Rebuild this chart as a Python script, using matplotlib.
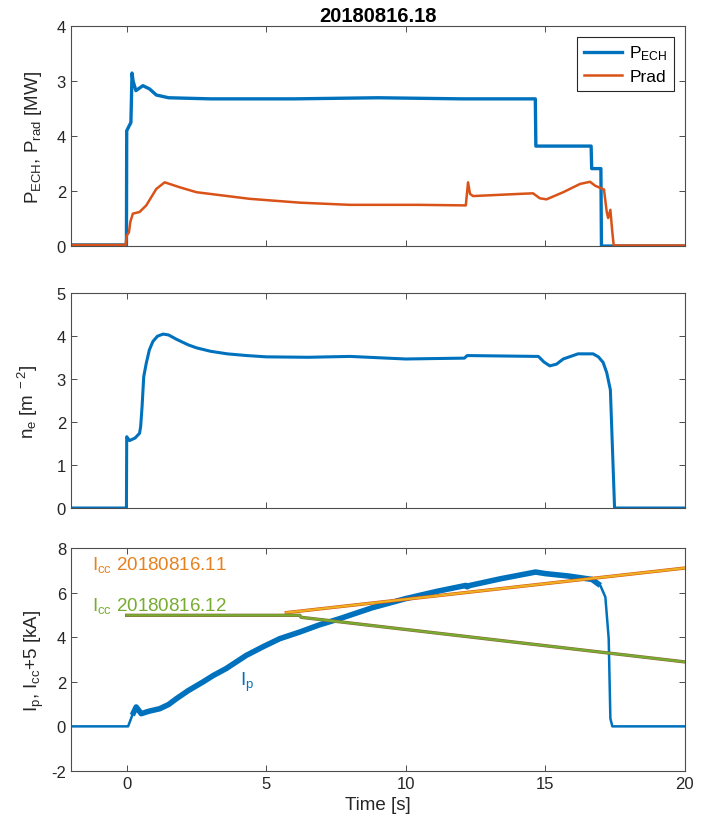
import numpy as np
import matplotlib.pyplot as plt

plt.rcParams['font.family'] = ['Liberation Sans', 'DejaVu Sans']
plt.rcParams['mathtext.fontset'] = 'custom'
plt.rcParams['mathtext.rm'] = 'Liberation Sans'
plt.rcParams['mathtext.it'] = 'Liberation Sans'
plt.rcParams['mathtext.default'] = 'regular'
plt.rcParams['axes.unicode_minus'] = False

shot = "20180816.18"

# ECH heating power and radiated power [MW]
t_ech = [-2, -0.01, 0.0, 0.15, 0.19, 0.23, 0.33, 0.58, 0.82, 1.06, 1.5, 3, 6, 9, 12,
         14.64, 14.66, 16.64, 16.66, 16.99, 17.01, 20]
p_ech = [0.02, 0.02, 2.1, 2.25, 3.15, 3.0, 2.83, 2.92, 2.86, 2.75, 2.70, 2.68, 2.68, 2.70, 2.68,
         2.68, 1.82, 1.82, 1.41, 1.41, 0.0, 0.0]

t_rad = [-2, -0.04, 0.0, 0.08, 0.13, 0.22, 0.46, 0.7, 1.06, 1.36, 1.9, 2.5, 4.4, 6.2, 8.0,
         10.5, 12.15, 12.23, 12.3, 12.41, 14.09, 14.56, 14.8, 15.04, 15.64, 16.24, 16.6,
         16.78, 16.96, 17.1, 17.2, 17.25, 17.33, 17.4, 17.45, 20]
p_rad = [0.02, 0.02, 0.19, 0.25, 0.44, 0.59, 0.62, 0.74, 1.04, 1.16, 1.07, 0.98, 0.86, 0.79, 0.75,
         0.75, 0.74, 1.16, 0.95, 0.91, 0.95, 0.96, 0.87, 0.85, 0.98, 1.13, 1.17,
         1.10, 1.06, 1.03, 0.62, 0.51, 0.66, 0.25, 0.01, 0.01]

# line-integrated density
t_ne = [-2, -0.01, 0.0, 0.1, 0.3, 0.46, 0.5, 0.55, 0.61, 0.7, 0.81, 0.94, 1.1, 1.3, 1.5,
        1.78, 2.2, 2.5, 3.0, 3.6, 4.3, 5, 6.5, 8, 9, 10, 11, 12.1, 12.2, 14.75, 14.95,
        15.16, 15.4, 15.64, 16.17, 16.71, 16.9, 17.07, 17.2, 17.33, 17.48, 20]
ne = [0, 0, 1.66, 1.57, 1.63, 1.74, 1.9, 2.36, 3.06, 3.37, 3.68, 3.88, 4.0, 4.05, 4.03,
      3.93, 3.80, 3.73, 3.65, 3.59, 3.55, 3.52, 3.51, 3.53, 3.50, 3.47, 3.48, 3.49, 3.55,
      3.53, 3.40, 3.31, 3.35, 3.47, 3.59, 3.59, 3.52, 3.39, 3.15, 2.75, 0, 0]

# plasma current and coil currents of the reference shots [kA]
t_ip = [-2, 0.05, 0.2, 0.34, 0.52, 0.8, 1.18, 1.5, 1.78, 2.2, 2.73, 3.1, 3.56, 4.28, 4.9,
        5.48, 6.2, 6.9, 7.63, 8.8, 10.0, 11.1, 12.15, 12.2, 12.3, 13.4, 14.65, 15.0,
        15.84, 16.67, 16.97, 17.15, 17.27, 17.33, 17.4, 20]
ip = [0, 0, 0.5, 0.87, 0.57, 0.68, 0.79, 0.98, 1.24, 1.6, 1.99, 2.28, 2.59, 3.18, 3.58,
      3.93, 4.23, 4.55, 4.83, 5.32, 5.73, 6.05, 6.32, 6.26, 6.32, 6.62, 6.92, 6.85,
      6.74, 6.59, 6.32, 5.80, 3.93, 0.35, 0, 0]

t_cc11 = [5.72, 20]
icc11 = [5.10, 7.10]
t_cc12 = [0.0, 6.2, 6.25, 20]
icc12 = [4.98, 4.98, 4.89, 2.89]

top_ticks = [0, 1, 2, 3, 4]
top_ticklabels = ['0', '2', '4', '3', '4']
x_ticks = [0, 5, 10, 15, 20]

blue = '#0072BD'
red = '#D95319'
yellow = '#EDB120'
green = '#77AC30'
axcol = '#4d4d4d'
txtcol = '#262626'


def style(ax):
    ax.set_xlim(-2, 20)
    ax.set_xticks(x_ticks)
    ax.tick_params(direction='in', top=True, right=True, length=4, width=0.7,
                   colors=axcol, labelcolor=txtcol, labelsize=12)
    for s in ax.spines.values():
        s.set_color(axcol)
        s.set_linewidth(0.8)


fig = plt.figure(figsize=(7.09, 8.29), dpi=100)
ax1 = fig.add_axes([0.100, 0.702, 0.866, 0.265])
ax2 = fig.add_axes([0.100, 0.386, 0.866, 0.259])
ax3 = fig.add_axes([0.100, 0.0688, 0.866, 0.269])

# powers
ax1.plot(t_ech, p_ech, color=blue, lw=2.4, label='P$_{ECH}$')
ax1.plot(t_rad, p_rad, color=red, lw=1.8, label='Prad')
style(ax1)
ax1.set_ylim(0, 4)
ax1.set_yticks(top_ticks)
ax1.set_yticklabels(top_ticklabels)
ax1.set_xticklabels([])
ax1.set_ylabel('P$_{ECH}$, P$_{rad}$ [MW]', fontsize=13.5, color=txtcol, labelpad=9)
ax1.set_title(shot, fontsize=14.5, fontweight='bold', color='black', pad=4)
leg = ax1.legend(loc='upper right', fontsize=12.5, fancybox=False, framealpha=1,
                 edgecolor=txtcol, borderaxespad=0.6, handlelength=2.2,
                 handletextpad=0.4, borderpad=0.4, labelspacing=0.35)
leg.get_frame().set_linewidth(0.8)

# density
ax2.plot(t_ne, ne, color=blue, lw=2.2)
style(ax2)
ax2.set_ylim(0, 5)
ax2.set_yticks([0, 1, 2, 3, 4, 5])
ax2.set_xticklabels([])
ax2.set_ylabel('n$_e$ [m$^{\\ -2}$]', fontsize=13.5, color=txtcol, labelpad=12)

# currents: thin trace everywhere, wider band over the noisy flat-top
ax3.plot(t_ip, ip, color=blue, lw=1.8)
ax3.plot(t_ip[2:-5], ip[2:-5], color=blue, lw=4.0, solid_capstyle='butt')
ax3.plot(t_cc11, icc11, color=red, lw=2.4)
ax3.plot(t_cc11, icc11, color=yellow, lw=1.6)
ax3.plot(t_cc12, icc12, color='#8a6a3a', lw=2.4)
ax3.plot(t_cc12, icc12, color=green, lw=1.6)
style(ax3)
ax3.set_ylim(-2, 8)
ax3.set_yticks([-2, 0, 2, 4, 6, 8])
ax3.set_xlabel('Time [s]', fontsize=13.5, color=txtcol, labelpad=4)
ax3.set_ylabel('I$_p$, I$_{cc}$+5 [kA]', fontsize=13.5, color=txtcol, labelpad=4)
ax3.text(-1.23, 7.04, 'I$_{cc}$ 20180816.11', color='#E6821E', fontsize=13.5, va='baseline')
ax3.text(-1.23, 5.20, 'I$_{cc}$ 20180816.12', color=green, fontsize=13.5, va='baseline')
ax3.text(4.05, 1.84, 'I$_p$', color=blue, fontsize=13.5, va='baseline')

fig.savefig('out.png', dpi=100)
